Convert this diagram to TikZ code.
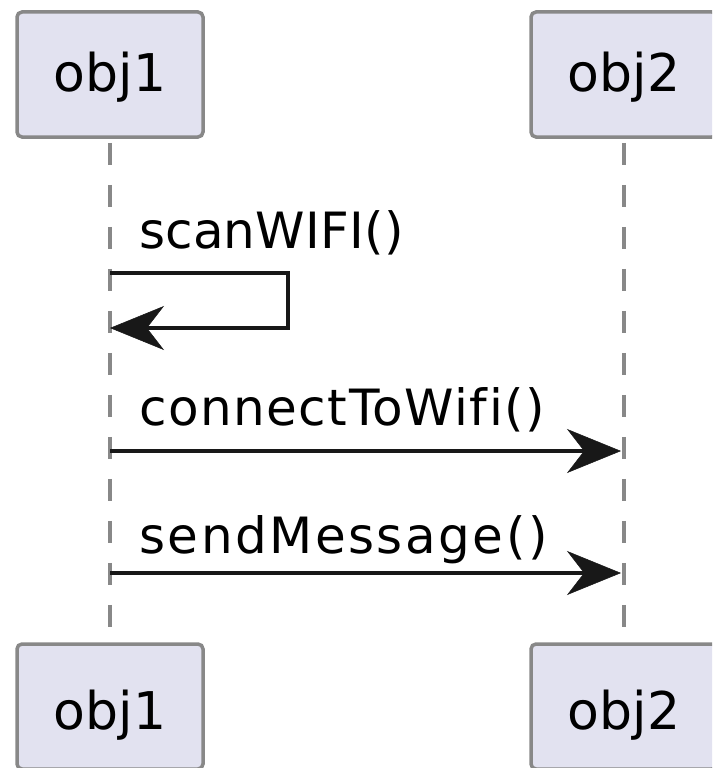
\documentclass[tikz,border=0pt]{standalone}
\usepackage{fontspec}
\setmainfont{DejaVu Sans}[Ligatures=CommonOff]
\usetikzlibrary{arrows.meta}
\definecolor{boxfill}{HTML}{E2E2F0}
\definecolor{boxline}{HTML}{888888}
\definecolor{inkc}{HTML}{181818}
\begin{document}
\begin{tikzpicture}[x=1pt,y=-1pt,
  part/.style={draw=boxline, fill=boxfill, line width=3.5pt, rounded corners=5pt,
    minimum width=186pt, minimum height=125pt, inner sep=0pt,
    font=\fontsize{52}{60}\selectfont, text=black},
  parttop/.style={part, text height=35pt, text depth=0pt},
  partbot/.style={part, text height=45pt, text depth=0pt},
  life/.style={draw=boxline, line width=4pt, dash pattern=on 22pt off 20pt, dash phase=38pt},
  msg/.style={draw=inkc, line width=4pt,
    -{Stealth[length=54pt,width=44pt,inset=17pt,line width=0.5pt]}},
  lbl/.style={anchor=base west, inner sep=0pt, text=black}]
\useasboundingbox (0,0) rectangle (712,768);
\clip (0,0) rectangle (712,768);

% participants
\node[parttop] (t1) at (110,74.5) {obj1};
\node[parttop] (t2) at (624,74.5) {obj2};
\node[partbot] (b1) at (110,706.5) {obj1};
\node[partbot] (b2) at (624,706.5) {obj2};

% lifelines
\draw[life] (t1.south) -- (b1.north);
\draw[life] (t2.south) -- (b2.north);

% self message
\coordinate (s0) at (110,273);
\coordinate (s1) at (288,273);
\coordinate (s2) at (288,328);
\coordinate (s3) at (110,328);
\draw[msg] (s0) -- (s1) -- (s2) -- (s3);
\node[lbl, font=\fontsize{50}{58}\selectfont\addfontfeature{LetterSpace=0.4}] (l1) at (139,248) {scanWIFI()};

% connectToWifi
\coordinate (c1) at (110,451);
\coordinate (c2) at (621,451);
\draw[msg] (c1) -- (c2);
\node[lbl, font=\fontsize{50}{58}\selectfont\addfontfeature{LetterSpace=3}] (l2) at (139,425) {connectToWifi()};

% sendMessage
\coordinate (m1) at (110,573);
\coordinate (m2) at (621,573);
\draw[msg] (m1) -- (m2);
\node[lbl, font=\fontsize{50}{58}\selectfont\addfontfeature{LetterSpace=5}] (l3) at (139,553) {sendMessage()};
\end{tikzpicture}
\end{document}
